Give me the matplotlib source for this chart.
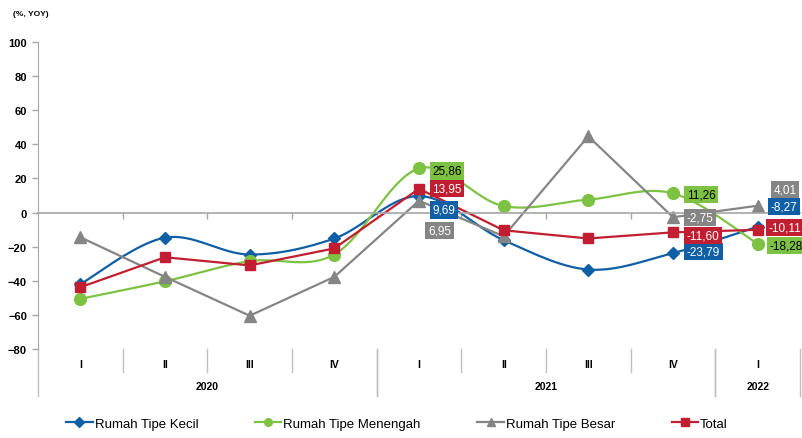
import numpy as np
import matplotlib
matplotlib.use("Agg")
import matplotlib.pyplot as plt
import matplotlib.transforms as mtransforms
from matplotlib.lines import Line2D

plt.rcParams['font.family'] = ['Liberation Sans', 'DejaVu Sans']

# data
quarters = ['I', 'II', 'III', 'IV', 'I', 'II', 'III', 'IV', 'I']
years = ['2020', '2021', '2022']
year_spans = [(0, 3), (4, 7), (8, 8)]

kecil = [-42.0, -14.7, -24.6, -15.2, 9.69, -16.2, -33.4, -23.79, -8.27]
menengah = [-50.6, -40.3, -28.5, -24.6, 25.86, 3.8, 7.6, 11.26, -18.28]
besar = [-14.5, -37.7, -60.5, -37.7, 6.95, -13.9, 44.7, -2.75, 4.01]
total = [-43.8, -26.2, -31.0, -21.0, 13.95, -10.4, -15.2, -11.60, -10.11]

names = ['Rumah Tipe Kecil', 'Rumah Tipe Menengah', 'Rumah Tipe Besar', 'Total']
labelled = [4, 7, 8]

blue = '#0E5FA6'
green = '#7DC243'
grey = '#858585'
red = '#C21E31'
axis_grey = '#A6A6A6'


def smooth(x, y, n=40):
    # Excel-like smoothed line (cubic bezier through the points)
    pts = np.column_stack([x, y]).astype(float)
    ext = np.vstack([pts[0], pts, pts[-1]])
    t = np.linspace(0, 1, n)[:, None]
    out = []
    for i in range(len(pts) - 1):
        p0, p1, p2, p3 = ext[i], ext[i + 1], ext[i + 2], ext[i + 3]
        c1 = p1 + (p2 - p0) / 6
        c2 = p2 - (p3 - p1) / 6
        seg = (1 - t) ** 3 * p1 + 3 * (1 - t) ** 2 * t * c1 + 3 * (1 - t) * t ** 2 * c2 + t ** 3 * p2
        out.append(seg if i == 0 else seg[1:])
    return np.vstack(out)


fig = plt.figure(figsize=(8.02, 4.39), dpi=100)
ax = fig.add_axes([38 / 802, 89 / 439, 762 / 802, 307 / 439])

x = np.arange(len(quarters))

series = [
    (kecil, blue, 'D', 6.5, True),
    (menengah, green, 'o', 8.5, True),
    (besar, grey, '^', 9, False),
    (total, red, 's', 7.5, False),
]

handles = []
for vals, col, mk, ms, sm in series:
    if sm:
        c = smooth(x, vals)
        ax.plot(c[:, 0], c[:, 1], color=col, lw=1.6, clip_on=False)
    else:
        ax.plot(x, vals, color=col, lw=1.6, clip_on=False)
    ax.plot(x, vals, linestyle='none', marker=mk, markersize=ms, color=col, clip_on=False)
    handles.append(Line2D([], [], color=col, lw=1.6, marker=mk, markersize=5.5))

# data labels, offsets in points (dx, dy) for kecil, menengah, besar, total
offsets = {
    4: [(9.5, -10), (9.5, -1.8), (6.5, -21.5), (9.5, 0)],
    7: [(10, 1.2), (10, -0.7), (10, 0), (9.5, -2.2)],
    8: [(9.5, 14.5), (8.5, -1.5), (11.5, 11.5), (8, 1.8)],
}
order = [kecil, menengah, besar, total]
cols = [blue, green, grey, red]
for i in labelled:
    for k, vals in enumerate(order):
        v = vals[i]
        dx, dy = offsets[i][k]
        ax.annotate(f'{v:.2f}'.replace('.', ','), (x[i], v), xytext=(dx, dy),
                    textcoords='offset points', ha='left', va='center',
                    fontsize=8.5, color='black' if cols[k] == green else 'white',
                    bbox=dict(boxstyle='square,pad=0.22', fc=cols[k], ec='none'),
                    annotation_clip=False, zorder=5)

ax.set_xlim(-0.5, 8.5)
ax.set_ylim(-80, 100)
ax.set_yticks(np.arange(-80, 101, 20))
ax.tick_params(axis='y', colors=axis_grey, length=4, width=1, pad=4, labelsize=8)
for lab in ax.get_yticklabels():
    lab.set_color('black')
    lab.set_fontweight('bold')

ax.spines['top'].set_visible(False)
ax.spines['right'].set_visible(False)
ax.spines['left'].set_color(axis_grey)
ax.spines['bottom'].set_color(axis_grey)
ax.spines['bottom'].set_position(('data', 0))
ax.spines['bottom'].set_linewidth(1.2)
ax.set_xticks(np.arange(0.5, 8, 1))
ax.set_xticklabels([])
ax.tick_params(axis='x', colors=axis_grey, length=4, width=1, direction='out')

# multi-level category axis below the plot
trans = mtransforms.blended_transform_factory(ax.transData, ax.transAxes)
for i, q in enumerate(quarters):
    ax.text(x[i], -0.049, q, transform=trans, ha='center', va='center',
            fontsize=7.5, fontweight='bold')
for yr, (a, b) in zip(years, year_spans):
    ax.text((a + b) / 2, -0.12, yr, transform=trans, ha='center', va='center',
            fontsize=7.5, fontweight='bold')
    for xb in (a - 0.5, b + 0.5):
        ax.plot([xb, xb], [0, -0.153], transform=trans, color='#BFBFBF', lw=1, clip_on=False)
    for xb in np.arange(a + 0.5, b, 1):
        ax.plot([xb, xb], [0, -0.075], transform=trans, color='#BFBFBF', lw=1, clip_on=False)

fig.text(13 / 802, 1 - 14 / 439, '(%, YOY)', fontsize=6, fontweight='bold', va='center', ha='left')

fig.legend(handles, names, loc='center', bbox_to_anchor=(0.495, 0.032), ncol=4,
           frameon=False, fontsize=9.5, handlelength=2.0, handletextpad=0.15,
           columnspacing=4.3)

fig.savefig('out.png', dpi=100)
